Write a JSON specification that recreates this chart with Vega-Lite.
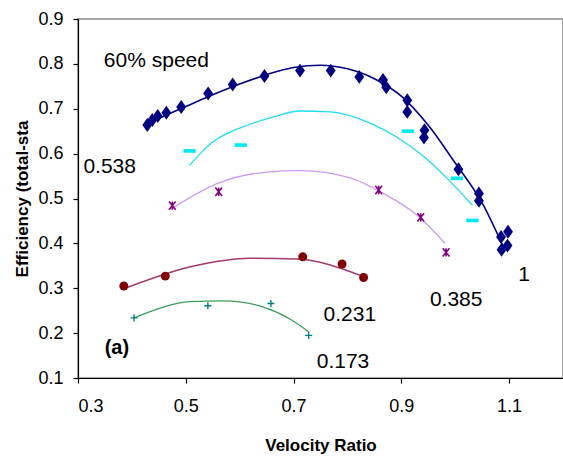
{
  "$schema": "https://vega.github.io/schema/vega-lite/v6.json",
  "autosize": "none",
  "width": 485,
  "height": 359,
  "padding": {"left": 78, "top": 19, "right": 0, "bottom": 84},
  "background": "white",
  "config": {
    "font": "Liberation Sans",
    "view": {"stroke": "#8c8c8c", "strokeWidth": 1.5},
    "axis": {
      "grid": false,
      "domainColor": "black",
      "tickColor": "black",
      "labelColor": "black",
      "titleColor": "black",
      "labelFont": "Liberation Sans",
      "titleFont": "Liberation Sans",
      "labelFontSize": 18,
      "titleFontSize": 17,
      "titleFontWeight": "bold",
      "tickSize": 5,
      "domainWidth": 1.2,
      "tickWidth": 1.2
    }
  },
  "datasets": {
    "pts": [
      {"s": "60%", "x": 0.4285, "y": 0.664},
      {"s": "60%", "x": 0.4378, "y": 0.675},
      {"s": "60%", "x": 0.448, "y": 0.684},
      {"s": "60%", "x": 0.464, "y": 0.691},
      {"s": "60%", "x": 0.4915, "y": 0.704},
      {"s": "60%", "x": 0.5415, "y": 0.734},
      {"s": "60%", "x": 0.587, "y": 0.754},
      {"s": "60%", "x": 0.646, "y": 0.773},
      {"s": "60%", "x": 0.712, "y": 0.785},
      {"s": "60%", "x": 0.769, "y": 0.785},
      {"s": "60%", "x": 0.822, "y": 0.771},
      {"s": "60%", "x": 0.866, "y": 0.764},
      {"s": "60%", "x": 0.872, "y": 0.748},
      {"s": "60%", "x": 0.911, "y": 0.719},
      {"s": "60%", "x": 0.911, "y": 0.693},
      {"s": "60%", "x": 0.943, "y": 0.652},
      {"s": "60%", "x": 0.942, "y": 0.636},
      {"s": "60%", "x": 1.006, "y": 0.565},
      {"s": "60%", "x": 1.044, "y": 0.511},
      {"s": "60%", "x": 1.044, "y": 0.495},
      {"s": "60%", "x": 1.085, "y": 0.414},
      {"s": "60%", "x": 1.098, "y": 0.426},
      {"s": "60%", "x": 1.097, "y": 0.395},
      {"s": "60%", "x": 1.086, "y": 0.386},
      {"s": "0.538", "x": 0.507, "y": 0.606},
      {"s": "0.538", "x": 0.602, "y": 0.619},
      {"s": "0.538", "x": 0.912, "y": 0.65},
      {"s": "0.538", "x": 1.003, "y": 0.545},
      {"s": "0.538", "x": 1.032, "y": 0.451},
      {"s": "0.385", "x": 0.475, "y": 0.484},
      {"s": "0.385", "x": 0.561, "y": 0.515},
      {"s": "0.385", "x": 0.858, "y": 0.519},
      {"s": "0.385", "x": 0.936, "y": 0.458},
      {"s": "0.385", "x": 0.983, "y": 0.38},
      {"s": "0.231", "x": 0.385, "y": 0.305},
      {"s": "0.231", "x": 0.462, "y": 0.327},
      {"s": "0.231", "x": 0.717, "y": 0.37},
      {"s": "0.231", "x": 0.79, "y": 0.354},
      {"s": "0.231", "x": 0.83, "y": 0.324},
      {"s": "0.173", "x": 0.404, "y": 0.234},
      {"s": "0.173", "x": 0.541, "y": 0.261},
      {"s": "0.173", "x": 0.658, "y": 0.266},
      {"s": "0.173", "x": 0.728, "y": 0.195}
    ],
    "lines": [
      {"s": "60%", "x": 0.428, "y": 0.664},
      {"s": "60%", "x": 0.46, "y": 0.684},
      {"s": "60%", "x": 0.5, "y": 0.705},
      {"s": "60%", "x": 0.55, "y": 0.731},
      {"s": "60%", "x": 0.6, "y": 0.755},
      {"s": "60%", "x": 0.65, "y": 0.776},
      {"s": "60%", "x": 0.7, "y": 0.792},
      {"s": "60%", "x": 0.75, "y": 0.797},
      {"s": "60%", "x": 0.8, "y": 0.789},
      {"s": "60%", "x": 0.85, "y": 0.767},
      {"s": "60%", "x": 0.9, "y": 0.728},
      {"s": "60%", "x": 0.95, "y": 0.663},
      {"s": "60%", "x": 1.0, "y": 0.579},
      {"s": "60%", "x": 1.05, "y": 0.49},
      {"s": "60%", "x": 1.09, "y": 0.39},
      {"s": "0.538", "x": 0.507, "y": 0.574},
      {"s": "0.538", "x": 0.527, "y": 0.6},
      {"s": "0.538", "x": 0.546, "y": 0.622},
      {"s": "0.538", "x": 0.577, "y": 0.645},
      {"s": "0.538", "x": 0.607, "y": 0.66},
      {"s": "0.538", "x": 0.663, "y": 0.682},
      {"s": "0.538", "x": 0.712, "y": 0.695},
      {"s": "0.538", "x": 0.768, "y": 0.693},
      {"s": "0.538", "x": 0.842, "y": 0.668},
      {"s": "0.538", "x": 0.891, "y": 0.637},
      {"s": "0.538", "x": 0.941, "y": 0.594},
      {"s": "0.538", "x": 0.984, "y": 0.546},
      {"s": "0.538", "x": 1.032, "y": 0.485},
      {"s": "0.385", "x": 0.475, "y": 0.478},
      {"s": "0.385", "x": 0.558, "y": 0.533},
      {"s": "0.385", "x": 0.651, "y": 0.559},
      {"s": "0.385", "x": 0.712, "y": 0.562},
      {"s": "0.385", "x": 0.805, "y": 0.546},
      {"s": "0.385", "x": 0.867, "y": 0.511},
      {"s": "0.385", "x": 0.929, "y": 0.463},
      {"s": "0.385", "x": 0.981, "y": 0.4},
      {"s": "0.231", "x": 0.385, "y": 0.299},
      {"s": "0.231", "x": 0.509, "y": 0.348},
      {"s": "0.231", "x": 0.62, "y": 0.367},
      {"s": "0.231", "x": 0.706, "y": 0.365},
      {"s": "0.231", "x": 0.83, "y": 0.326},
      {"s": "0.173", "x": 0.404, "y": 0.234},
      {"s": "0.173", "x": 0.509, "y": 0.27},
      {"s": "0.173", "x": 0.57, "y": 0.272},
      {"s": "0.173", "x": 0.644, "y": 0.258},
      {"s": "0.173", "x": 0.694, "y": 0.231},
      {"s": "0.173", "x": 0.728, "y": 0.203}
    ],
    "labels": [
      {"t": "60% speed", "x": 0.348, "y": 0.806, "k": "n"},
      {"t": "0.538", "x": 0.31, "y": 0.57, "k": "n"},
      {"t": "1", "x": 1.117, "y": 0.33, "k": "n"},
      {"t": "0.385", "x": 0.953, "y": 0.273, "k": "n"},
      {"t": "0.231", "x": 0.7556, "y": 0.24, "k": "n"},
      {"t": "0.173", "x": 0.743, "y": 0.136, "k": "n"},
      {"t": "(a)", "x": 0.3495, "y": 0.167, "k": "b"}
    ]
  },
  "encoding": {
    "x": {"field": "x", "type": "quantitative",
      "scale": {"domain": [0.3, 1.2], "nice": false, "zero": false},
      "axis": {"values": [0.3, 0.5, 0.7, 0.9, 1.1], "format": ".1f", "title": "Velocity Ratio", "labelPadding": 14, "titlePadding": 22}},
    "y": {"field": "y", "type": "quantitative",
      "scale": {"domain": [0.1, 0.9], "nice": false, "zero": false},
      "axis": {"values": [0.1, 0.2, 0.3, 0.4, 0.5, 0.6, 0.7, 0.8, 0.9], "format": ".1f", "title": "Efficiency (total-sta", "labelPadding": 10, "titlePadding": 6}}
  },
  "layer": [
    {"data": {"name": "lines"}, "transform": [{"filter": "datum.s === '60%'"}],
      "mark": {"type": "line", "interpolate": "monotone", "color": "#000080", "strokeWidth": 1.6}},
    {"data": {"name": "lines"}, "transform": [{"filter": "datum.s === '0.538'"}],
      "mark": {"type": "line", "interpolate": "monotone", "color": "#22dcef", "strokeWidth": 1.3}},
    {"data": {"name": "lines"}, "transform": [{"filter": "datum.s === '0.385'"}],
      "mark": {"type": "line", "interpolate": "monotone", "color": "#c99cf7", "strokeWidth": 1.3}},
    {"data": {"name": "lines"}, "transform": [{"filter": "datum.s === '0.231'"}],
      "mark": {"type": "line", "interpolate": "monotone", "color": "#a33a6e", "strokeWidth": 1.5}},
    {"data": {"name": "lines"}, "transform": [{"filter": "datum.s === '0.173'"}],
      "mark": {"type": "line", "interpolate": "monotone", "color": "#3a9d5d", "strokeWidth": 1.2}},
    {"data": {"name": "pts"}, "transform": [{"filter": "datum.s === '60%'"}],
      "mark": {"type": "point", "shape": "M0,-1.2L0.85,0L0,1.2L-0.85,0Z", "filled": true, "color": "#000080", "size": 135, "opacity": 1}},
    {"data": {"name": "pts"}, "transform": [{"filter": "datum.s === '0.538'"}],
      "mark": {"type": "point", "shape": "M-1,-0.3L1,-0.3L1,0.3L-1,0.3Z", "filled": true, "color": "#00e8f0", "size": 150, "opacity": 1}},
    {"data": {"name": "pts"}, "transform": [{"filter": "datum.s === '0.385'"}],
      "mark": {"type": "point", "shape": "M-0.8,-1L0.8,1M-0.8,1L0.8,-1M0,-1L0,1", "filled": false, "color": "#800080", "strokeWidth": 1.6, "size": 70, "opacity": 1}},
    {"data": {"name": "pts"}, "transform": [{"filter": "datum.s === '0.231'"}],
      "mark": {"type": "circle", "color": "#800000", "size": 80, "opacity": 1}},
    {"data": {"name": "pts"}, "transform": [{"filter": "datum.s === '0.173'"}],
      "mark": {"type": "point", "shape": "M-1,0L1,0M0,-1L0,1", "filled": false, "color": "#008080", "strokeWidth": 1.4, "size": 50, "opacity": 1}},
    {"data": {"name": "labels"}, "transform": [{"filter": "datum.k === 'n'"}],
      "mark": {"type": "text", "align": "left", "baseline": "middle", "fontSize": 21, "font": "Liberation Sans", "color": "black"},
      "encoding": {"text": {"field": "t"}}},
    {"data": {"name": "labels"}, "transform": [{"filter": "datum.k === 'b'"}],
      "mark": {"type": "text", "align": "left", "baseline": "middle", "fontSize": 20, "fontWeight": "bold", "font": "Liberation Sans", "color": "black"},
      "encoding": {"text": {"field": "t"}}}
  ]
}
